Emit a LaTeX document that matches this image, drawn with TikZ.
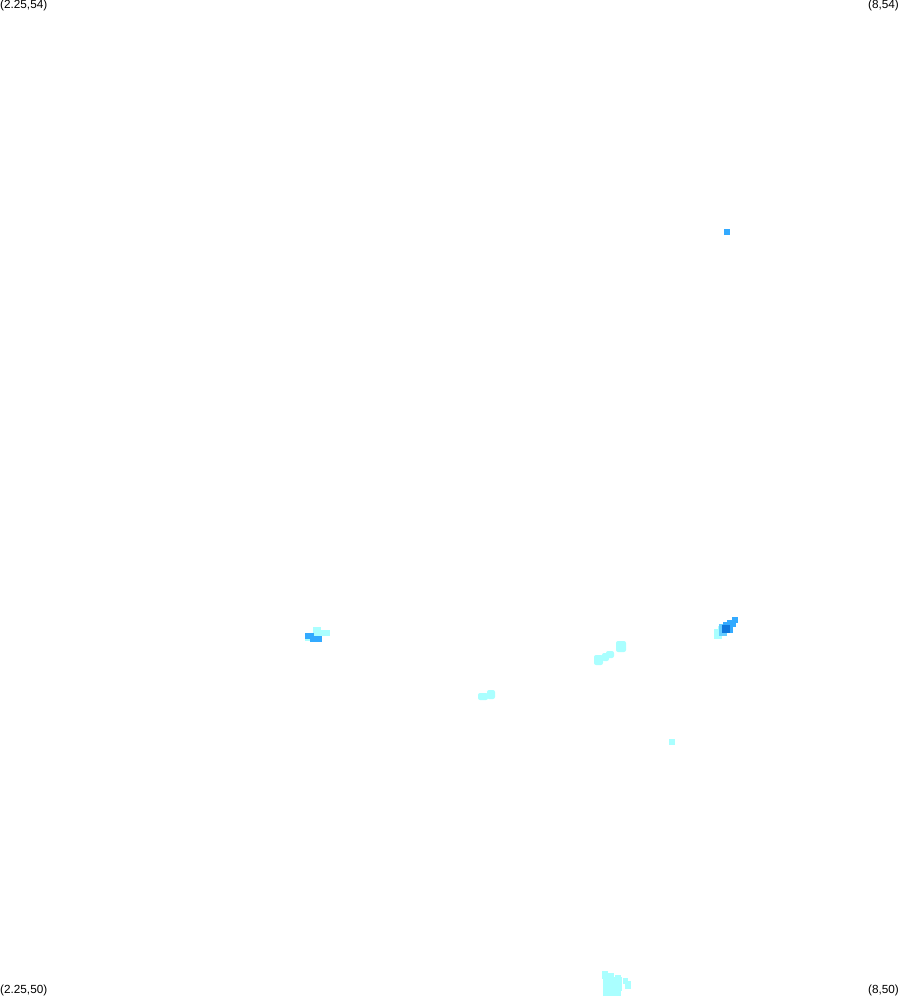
\documentclass[tikz,border=0pt]{standalone}
\usepackage{fontspec}
\setmainfont{Liberation Sans}
\usetikzlibrary{calc}
\definecolor{paleblue}{HTML}{AAFFFF}
\definecolor{softblue}{HTML}{66CCFF}
\definecolor{midblue}{HTML}{33AAFF}
\definecolor{deepblue}{HTML}{0F77DD}
\tikzset{
    cornerlabel/.style={font=\fontsize{11.8}{12}\selectfont, inner sep=0pt, text height=8pt, text depth=2pt}
}

\begin{document}
\begin{tikzpicture}[x=1bp, y=-1bp]
            \useasboundingbox (0,0) rectangle (899,996);

            % light cells
            \foreach \x/\y/\w/\h in {313/627/8/6, 313/630/17/6, 305/636/7/5,
                714/629/8/10, 718/626/6/8, 669/739/6/6,
                602/971/6/8, 608/973/6/8, 603/977/19/14, 615/975/6/6, 603/989/11/7,
                614/991/7/5, 623/978/5/6, 625/981/6/8} {
                \fill[paleblue] (\x,\y) rectangle ++(\w,\h);
            }

            % rounder light cells
            \foreach \x/\y/\w/\h in {616/641/10/11, 606/651/8/7, 602/653/7/8, 594/655/9/10,
                478/693/10/7, 487/690/8/9} {
                \fill[paleblue, rounded corners=2bp] (\x,\y) rectangle ++(\w,\h);
            }

            % second shade
            \foreach \x/\y/\w/\h in {719/624/8/12} {
                \fill[softblue] (\x,\y) rectangle ++(\w,\h);
            }

            % stronger cells
            \foreach \x/\y/\w/\h in {305/633/9/6, 310/636/12/6, 724/229/6/6,
                732/617/6/6, 727/620/9/7, 723/622/10/11} {
                \fill[midblue] (\x,\y) rectangle ++(\w,\h);
            }

            \fill[deepblue] (722,625) rectangle (730,633);

            \node[cornerlabel, anchor=north west] (topleft) at (0,0) {(2.25,54)};
            \node[cornerlabel, anchor=north east] (topright) at (899,0) {(8,54)};
            \node[cornerlabel, anchor=south west] (bottomleft) at (0,996) {(2.25,50)};
            \node[cornerlabel, anchor=south east] (bottomright) at (899,996) {(8,50)};
        \end{tikzpicture}
\end{document}
